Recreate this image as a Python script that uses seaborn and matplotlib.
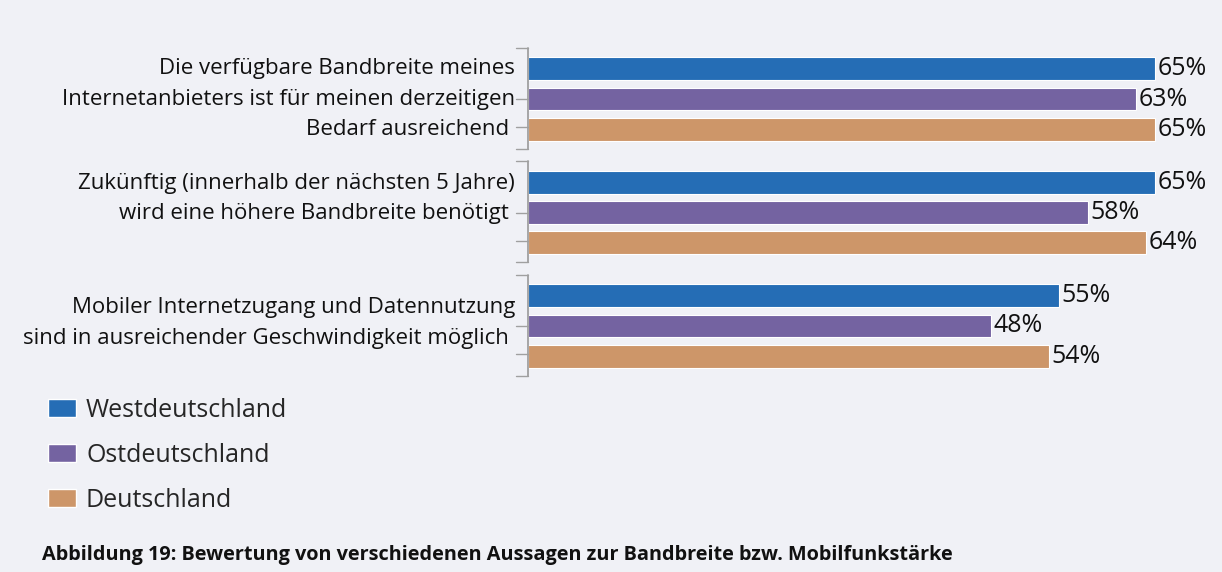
import matplotlib.pyplot as plt
import matplotlib.transforms as mtransforms
from matplotlib.patches import Patch
import seaborn as sns
import pandas as pd

# Daten aus der Abbildung
aussagen = [
    "Die verfügbare Bandbreite meines\nInternetanbieters ist für meinen derzeitigen\nBedarf ausreichend ",
    "Zukünftig (innerhalb der nächsten 5 Jahre)\nwird eine höhere Bandbreite benötigt ",
    "Mobiler Internetzugang und Datennutzung\nsind in ausreichender Geschwindigkeit möglich ",
]
regionen = ["Westdeutschland", "Ostdeutschland", "Deutschland"]
west = [65, 65, 55]
ost = [63, 58, 48]
gesamt = [65, 64, 54]
titel = "Abbildung 19: Bewertung von verschiedenen Aussagen zur Bandbreite bzw. Mobilfunkstärke"

farben = ["#256db5", "#7463a1", "#cd9669"]
bg = "#f0f1f6"

df = pd.DataFrame({
    "aussage": aussagen * 3,
    "region": [r for r in regionen for _ in aussagen],
    "wert": west + ost + gesamt,
})

sns.set_theme(style="white")
plt.rcParams["font.family"] = ["Open Sans", "DejaVu Sans"]

fig = plt.figure(figsize=(12.22, 5.72), dpi=100, facecolor=bg)
ax = fig.add_axes([528 / 1222, 1 - 377 / 572, (1215 - 528) / 1222, 329 / 572])
ax.set_facecolor(bg)

sns.barplot(data=df, y="aussage", x="wert", hue="region", hue_order=regionen,
            palette=farben, saturation=1, orient="h", gap=0.25, edgecolor="white",
            linewidth=0.8, legend=False, ax=ax)

ax.set_xlim(0, 71.2)
ax.set_ylim(2.45, -0.45)
ax.set_xticks([])
ax.set_yticks([])
ax.set_xlabel("")
ax.set_ylabel("")
for s in ax.spines.values():
    s.set_visible(False)

for c in ax.containers:
    ax.bar_label(c, fmt="%g%%", padding=2, fontsize=18, color="#111111")

# Kategorien-Beschriftung und Klammern
trans = mtransforms.blended_transform_factory(ax.transAxes, ax.transData)
verschiebung = [0, -14, -3]  # Pixel nach oben
tick_len = 12 / 687
for i, txt in enumerate(aussagen):
    off = mtransforms.ScaledTranslation(0, -verschiebung[i] / 100, fig.dpi_scale_trans)
    ax.text(-13 / 687, i, txt, transform=trans + off, ha="right", va="center",
            fontsize=16, linespacing=1.6, color="#111111")
    ax.plot([0, 0], [i - 0.45, i + 0.44], transform=trans, color="#a0a0a0",
            lw=1.3, clip_on=False)
    for d in [-0.45, 0.0, 0.25, 0.44]:
        ax.plot([-tick_len, 0], [i + d, i + d], transform=trans, color="#a0a0a0",
                lw=1.0, clip_on=False)

handles = [Patch(facecolor=f, edgecolor="white", label=r) for f, r in zip(farben, regionen)]
fig.legend(handles=handles, loc="upper left", bbox_to_anchor=(48 / 1222, 1 - 398 / 572),
           frameon=False, fontsize=18, handlelength=1.12, handleheight=0.72,
           handletextpad=0.4, labelspacing=0.8, borderpad=0, borderaxespad=0)

fig.text(42 / 1222, 1 - 555 / 572, titel, fontsize=14.3, fontweight="bold",
         va="center", ha="left", color="#111111")

fig.savefig("out.png", dpi=100, facecolor=bg)
